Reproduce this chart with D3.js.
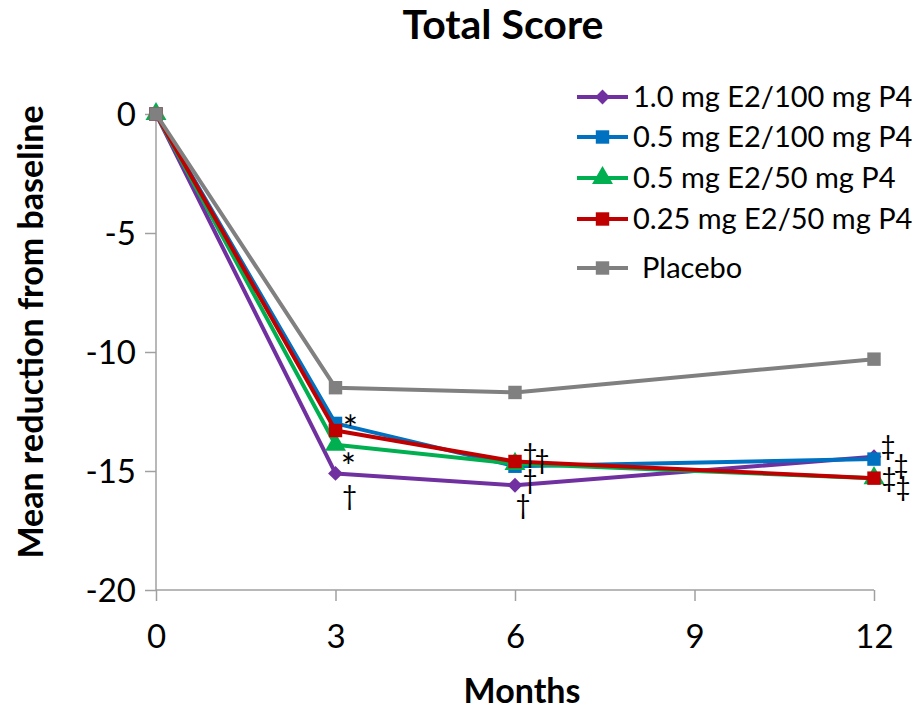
<!DOCTYPE html>
<html lang="en">
<head>
<meta charset="utf-8">
<script src="https://cdn.jsdelivr.net/npm/d3@7"></script>
<style>
  body { margin: 0; background: #fff; }
  text { font-family: Lato, "Open Sans", sans-serif; fill: #000; }
</style>
</head>
<body>
<script>
// Data
const months = [0, 3, 6, 12]
const seriesNames = ["1.0 mg E2/100 mg P4", "0.5 mg E2/100 mg P4", "0.5 mg E2/50 mg P4", "0.25 mg E2/50 mg P4", "Placebo"]
const e2_10_100 = [0, -15.1, -15.6, -14.4]
const e2_05_100 = [0, -13.0, -14.8, -14.5]
const e2_05_50 = [0, -13.9, -14.7, -15.3]
const e2_025_50 = [0, -13.3, -14.6, -15.3]
const placebo = [0, -11.5, -11.7, -10.3]
const xTicks = [0, 3, 6, 9, 12]
const yTicks = [0, -5, -10, -15, -20]
// significance marks: [month, value, symbol]
const marks = [
  [3, -12.86, "*"], [3, -14.45, "*"], [3, -16.09, "†"],
  [6, -14.33, "†"], [6, -14.58, "†"], [6, -15.42, "†"], [6, -16.47, "†"],
  [12, -13.99, "‡"], [12, -14.79, "‡"], [12, -15.34, "‡"], [12, -15.71, "‡"]
]
const markDx = [15, 13, 14, 15, 27, 15, 8, 14, 27, 15, 29]

const w = 920, h = 710
const margin = {left: 156, right: 46, top: 114, bottom: 120}
const colors = ["#7030A0", "#0070C0", "#00B050", "#C00000", "#808080"]
const shapes = [d3.symbolSquare, d3.symbolSquare, d3.symbolTriangle, d3.symbolSquare, d3.symbolSquare]
const allSeries = [e2_10_100, e2_05_100, e2_05_50, e2_025_50, placebo]

const svg = d3.select("body").append("svg").attr("width", w).attr("height", h)

const x = d3.scaleLinear().domain([0, 12]).range([margin.left, w - margin.right])
const y = d3.scaleLinear().domain([-20, 0]).range([h - margin.bottom, margin.top])

// axes
const fmt = d => String(d)
const yAxis = svg.append("g").attr("transform", `translate(${margin.left},0)`)
  .call(d3.axisLeft(y).tickValues(yTicks).tickSize(11).tickPadding(9).tickFormat(fmt))
const xAxis = svg.append("g").attr("transform", `translate(0,${y(-20)})`)
  .call(d3.axisBottom(x).tickValues(xTicks).tickSize(11).tickPadding(24).tickFormat(fmt))
;[yAxis, xAxis].forEach(a => {
  a.select(".domain").attr("stroke", "#a0a0a0").attr("stroke-width", 1.5)
  a.selectAll(".tick line").attr("stroke", "#a0a0a0").attr("stroke-width", 1.5)
  a.selectAll(".tick text").style("font-size", "33px").style("font-family", "Lato, sans-serif")
})
yAxis.select(".domain").attr("d", `M0,${y(0)}V${y(-20)}`)
xAxis.select(".domain").attr("d", `M${x(0)},0H${x(12)}`)
xAxis.selectAll(".tick text").attr("dy", "0.71em")
yAxis.selectAll(".tick text").attr("dy", "0.36em")

// lines
const line = d3.line().x((d, i) => x(months[i])).y(d => y(d))
const symSize = [110, 180, 190, 180, 180]
const symRot = [45, 0, 0, 0, 0]
allSeries.forEach((s, k) => {
  const g = svg.append("g")
  g.append("path").datum(s).attr("d", line)
    .attr("fill", "none").attr("stroke", colors[k]).attr("stroke-width", 4).attr("stroke-linejoin", "round")
  g.selectAll("path.pt").data(s).enter().append("path").attr("class", "pt")
    .attr("transform", (d, i) => `translate(${x(months[i])},${y(d)}) rotate(${symRot[k]})`)
    .attr("d", d3.symbol().type(shapes[k]).size(symSize[k]))
    .attr("fill", colors[k])
})

// significance markers
svg.selectAll("text.sig").data(marks).enter().append("text").attr("class", "sig")
  .attr("x", (d, i) => x(d[0]) + markDx[i])
  .attr("y", d => y(d[1]))
  .attr("dy", d => d[2] === "*" ? "0.6em" : "0.32em")
  .attr("text-anchor", "middle")
  .style("font-size", d => d[2] === "*" ? "36px" : "26px")
  .text(d => d[2])

// titles
svg.append("text").attr("x", 503).attr("y", 39).attr("text-anchor", "middle")
  .style("font-size", "41px").style("font-weight", "bold").text("Total Score")
svg.append("text").attr("x", 522).attr("y", 703).attr("text-anchor", "middle")
  .style("font-size", "34px").style("font-weight", "bold").text("Months")
svg.append("text").attr("transform", `translate(43,332) rotate(-90)`)
  .attr("text-anchor", "middle")
  .style("font-size", "34px").style("font-weight", "bold").text("Mean reduction from baseline")

// legend
const legendY = [97, 137, 178, 219, 268]
const lg = svg.selectAll("g.leg").data(seriesNames).enter().append("g").attr("class", "leg")
  .attr("transform", (d, i) => `translate(577,${legendY[i]})`)
lg.append("line").attr("x1", 0).attr("x2", 51).attr("stroke", (d, i) => colors[i]).attr("stroke-width", 4)
lg.append("path").attr("transform", (d, i) => `translate(25.5,0) rotate(${symRot[i]})`)
  .attr("d", (d, i) => d3.symbol().type(shapes[i]).size(symSize[i])())
  .attr("fill", (d, i) => colors[i])
lg.append("text").attr("x", (d, i) => i === 4 ? 65 : 56).attr("dy", "0.36em")
  .style("font-size", "29px").text(d => d)
</script>
</body>
</html>
